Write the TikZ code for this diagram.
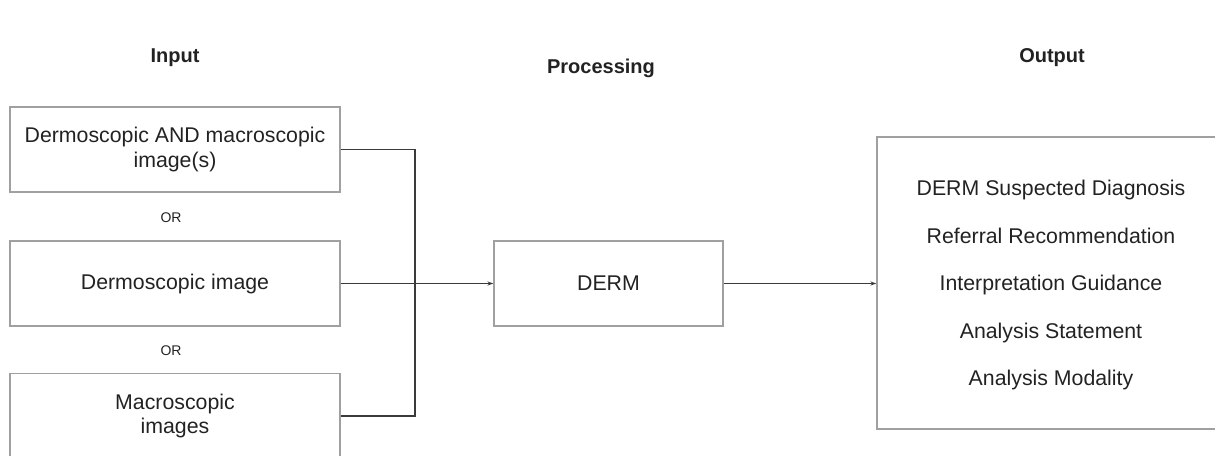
\documentclass[tikz,border=0pt]{standalone}
\usepackage{fontspec}
\setmainfont{Liberation Sans}
\usetikzlibrary{arrows.meta}
\definecolor{boxgray}{HTML}{A0A0A0}
\definecolor{linegray}{HTML}{3A3A3A}
\definecolor{txt}{HTML}{222222}
\tikzset{
  inbox/.style={draw=boxgray, line width=1.1pt, minimum width=330pt, minimum height=85pt, inner sep=0pt, align=center, text=txt, font=\fontsize{21.3}{24.5}\selectfont},
  procbox/.style={inbox, minimum width=229pt},
  outbox/.style={draw=boxgray, line width=1.1pt, minimum width=345pt, minimum height=292pt, inner sep=0pt},
  outtxt/.style={text=txt, font=\fontsize{21.3}{24}\selectfont, inner sep=0pt, text height=15pt, text depth=0pt},
  ortxt/.style={text=txt, font=\fontsize{14}{16}\selectfont, inner sep=0pt, text height=10pt, text depth=0pt},
  header/.style={text=txt, font=\fontsize{20}{22}\selectfont\bfseries, inner sep=0pt, text height=14.5pt, text depth=0pt},
  conn/.style={draw=linegray, line width=1.1pt},
  arr/.style={conn, -{Stealth[length=6pt,width=4pt]}}
}
\begin{document}
\begin{tikzpicture}[x=1pt,y=-1pt]
\useasboundingbox (0,0) rectangle (1215,455);
\clip (0,0) rectangle (1215,455);
\node[header] (hin) at (175,55) {Input};
\node[header] (hproc) at (601,66) {Processing};
\node[header] (hout) at (1052,55) {Output};

\node[inbox] (b1) at (175,149.5) {Dermoscopic AND macroscopic\\image(s)};
\node[ortxt] (or1) at (171,217) {OR};
\node[inbox] (b2) at (175,283.5) {Dermoscopic image};
\node[ortxt] (or2) at (171,350) {OR};
\node[inbox] (b3) at (175,416) {Macroscopic\\images};

\node[procbox] (derm) at (608.5,283.5) {DERM};

\node[outbox] (out) at (1049.5,283) {};
\node[outtxt] (o1) at (1051,188) {DERM Suspected Diagnosis};
\node[outtxt] (o2) at (1051,235.5) {Referral Recommendation};
\node[outtxt] (o3) at (1051,283) {Interpretation Guidance};
\node[outtxt] (o4) at (1051,330.5) {Analysis Statement};
\node[outtxt] (o5) at (1051,378) {Analysis Modality};

\coordinate (jn) at (415,283.5);
\draw[conn] (b1.east) -- (b1.east -| jn) -- (b3.east -| jn) -- (b3.east);
\draw[arr] (b2.east) -- (derm.west);
\draw[arr] (derm.east) -- (derm.east -| out.west);
\end{tikzpicture}
\end{document}
